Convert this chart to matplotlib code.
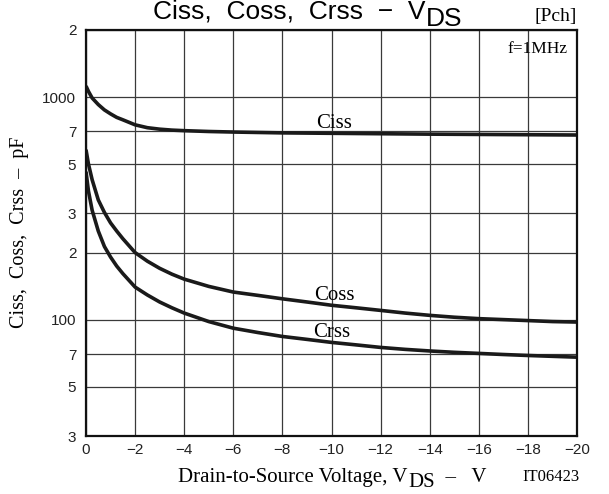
#--------------------------------------------
# Ciss, Coss, Crss - VDS  (Pch) 電容特性圖
#--------------------------------------------
import matplotlib
matplotlib.use('Agg')
import matplotlib.pyplot as plt
from matplotlib.ticker import NullLocator

# 資料
vds = [0, -0.1, -0.25, -0.5, -0.75, -1, -1.25, -1.5, -2, -2.5, -3, -3.5, -4,
       -5, -6, -7, -8, -9, -10, -11, -12, -13, -14, -15, -16, -17, -18, -19, -20]
ciss = [1120, 1060, 990, 925, 875, 840, 810, 790, 750, 728, 717, 710, 706,
        700, 696, 693, 690, 688.5, 687, 685.5, 684, 682.5, 681, 680, 679, 678, 677, 676, 675]
coss = [580, 500, 425, 345, 303, 272, 250, 231, 200, 183, 170, 160, 152,
        141, 133, 128.5, 124, 120, 116, 113, 110, 107, 104.5, 102.5, 101, 100, 99, 98, 97.5]
crss = [462, 378, 310, 250, 213, 191, 174, 161, 140, 129, 120, 113, 107,
        98, 91.5, 87.5, 84, 81.5, 79, 77, 75, 73.5, 72.3, 71.3, 70.5, 69.7, 69, 68.4, 67.8]

xticks = [0, -2, -4, -6, -8, -10, -12, -14, -16, -18, -20]
xticklabels = ['0', '\u22122', '\u22124', '\u22126', '\u22128', '\u221210',
               '\u221212', '\u221214', '\u221216', '\u221218', '\u221220']
yticks = [30, 50, 70, 100, 200, 300, 500, 700, 1000, 2000]
yticklabels = ['3', '5', '7', '100', '2', '3', '5', '7', '1000', '2']

SANS = 'Liberation Sans'
SERIF = 'Liberation Serif'

W, H = 609, 494


def px(x, y):
    # 像素座標 -> figure 比例座標
    return x / W, 1 - y / H


def sub_text(fig, x, y, main, sub, tail, size, family, drop):
    """main + 下標 sub + tail，以像素座標 (x, baseline y) 放置"""
    fx, fy = px(x, y)
    t1 = fig.text(fx, fy, main, fontsize=size, family=family,
                  ha='left', va='baseline')
    t2 = plt.annotate(sub, xy=(1, 0), xycoords=t1, xytext=(0.5, -drop),
                      textcoords='offset points', fontsize=size,
                      family=family, ha='left', va='bottom',
                      annotation_clip=False)
    if tail:
        plt.annotate(tail, xy=(1, 0), xycoords=(t2, t1), xytext=(0, 0),
                     textcoords='offset points', fontsize=size,
                     family=family, ha='left', va='bottom',
                     annotation_clip=False)
    return t1


fig = plt.figure(figsize=(W / 100, H / 100), dpi=100)
left, right, top, bottom = 86, 577, 30, 436
ax = fig.add_axes([left / W, 1 - bottom / H, (right - left) / W, (bottom - top) / H])

ax.set_yscale('log')
ax.set_xlim(0, -20)
ax.set_ylim(30, 2000)
ax.set_xticks(xticks)
ax.set_xticklabels(xticklabels)
ax.set_yticks(yticks)
ax.set_yticklabels(yticklabels)
ax.yaxis.set_minor_locator(NullLocator())
ax.tick_params(length=0, labelsize=11, pad=5)
ax.tick_params(axis='y', pad=7)
for lab in ax.get_xticklabels() + ax.get_yticklabels():
    lab.set_family(SANS)
    lab.set_color('#222222')

ax.grid(True, which='major', color='#3a3a3a', linewidth=0.9)
ax.set_axisbelow(True)
for sp in ax.spines.values():
    sp.set_linewidth(1.6)
    sp.set_color('#111111')

# 曲線
for yv in (ciss, coss, crss):
    ax.plot(vds, yv, color='#1a1a1a', linewidth=2.6,
            solid_capstyle='butt', solid_joinstyle='round')

# 曲線標籤
ax.text(-10.1, 726, 'Ciss', fontsize=15, family=SERIF, ha='center', va='baseline')
ax.text(-10.1, 122.6, 'Coss', fontsize=15, family=SERIF, ha='center', va='baseline')
ax.text(-10.0, 83.7, 'Crss', fontsize=15, family=SERIF, ha='center', va='baseline')

# 標題與說明文字
sub_text(fig, 153, 19, 'Ciss,  Coss,  Crss  \u2212  V', 'DS', '', 19, SANS, 4.8)
fig.text(*px(577, 20.5), '[Pch]', fontsize=14, family=SERIF, ha='right', va='baseline')
fig.text(*px(567, 53), 'f=1MHz', fontsize=12.5, family=SERIF, ha='right', va='baseline')

sub_text(fig, 178, 481.5, 'Drain-to-Source Voltage, V', 'DS', '  \u2013   V', 15, SERIF, 3.6)
fig.text(*px(522, 481), 'IT06423', fontsize=12, family=SERIF, ha='left', va='baseline')

fig.text(*px(20, 232), 'Ciss,  Coss,  Crss  \u2013  pF', fontsize=14.5, family=SERIF,
         rotation=90, ha='center', va='center')

fig.savefig('out.png', dpi=100)
